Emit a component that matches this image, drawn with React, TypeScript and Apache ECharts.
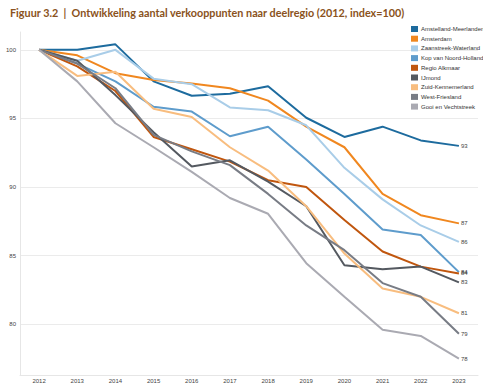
import React, { useEffect, useRef } from "react";
import * as echarts from "echarts";

const years = ["2012", "2013", "2014", "2015", "2016", "2017", "2018", "2019", "2020", "2021", "2022", "2023"];

const amstellandMeerlanden = [100, 100, 100.4, 97.7, 96.65, 96.8, 97.35, 95.05, 93.65, 94.4, 93.4, 93.0];
const amsterdam = [100, 99.6, 98.3, 97.8, 97.55, 97.2, 96.3, 94.4, 92.9, 89.5, 87.95, 87.35];
const zaanstreekWaterland = [100, 99.2, 100, 97.9, 97.5, 95.8, 95.6, 94.5, 91.4, 89.1, 87.2, 86.0];
const kopVanNoordHolland = [100, 99.0, 97.7, 95.85, 95.5, 93.7, 94.4, 92.0, 89.5, 86.9, 86.5, 83.8];
const regioAlkmaar = [100, 98.8, 97.0, 93.65, 92.75, 91.85, 90.5, 90.0, 87.6, 85.3, 84.2, 83.7];
const ijmond = [100, 99.2, 96.7, 94.0, 91.5, 91.95, 90.4, 88.6, 84.3, 84.0, 84.2, 83.05];
const zuidKennemerland = [100, 98.1, 98.4, 95.7, 95.1, 92.9, 91.2, 88.6, 85.15, 82.6, 82.0, 80.8];
const westFriesland = [100, 99.0, 97.2, 93.8, 92.6, 91.6, 89.5, 87.2, 85.4, 83.0, 82.0, 79.3];
const gooiEnVechtstreek = [100, 97.7, 94.65, 92.9, 91.1, 89.2, 88.05, 84.45, 82.0, 79.6, 79.15, 77.5];

const seriesNames = [
  "Amstelland-Meerlanden",
  "Amsterdam",
  "Zaanstreek-Waterland",
  "Kop van Noord-Holland",
  "Regio Alkmaar",
  "IJmond",
  "Zuid-Kennemerland",
  "West-Friesland",
  "Gooi en Vechtstreek",
];
const seriesValues = [
  amstellandMeerlanden,
  amsterdam,
  zaanstreekWaterland,
  kopVanNoordHolland,
  regioAlkmaar,
  ijmond,
  zuidKennemerland,
  westFriesland,
  gooiEnVechtstreek,
];
const seriesColors = [
  "#1d6b9e",
  "#f0871f",
  "#a9cde8",
  "#5e9ccc",
  "#c0560e",
  "#545960",
  "#f8bd7f",
  "#787c85",
  "#aaaab2",
];

const FONT = "'Liberation Sans', Arial, sans-serif";

export default function App() {
  const ref = useRef<HTMLDivElement>(null);
  useEffect(() => {
    if (!ref.current) return;
    const chart = echarts.init(ref.current, undefined, { renderer: "svg" });
    chart.setOption({
      animation: false,
      backgroundColor: "#ffffff",
      title: {
        text: "Figuur 3.2  |  Ontwikkeling aantal verkooppunten naar deelregio (2012, index=100)",
        left: 5,
        top: 2,
        textStyle: {
          fontFamily: "Lato, 'Open Sans', sans-serif",
          fontWeight: "bold",
          fontSize: 10.8,
          color: "#8a5220",
        },
      },
      legend: {
        orient: "vertical",
        left: 406,
        top: 21,
        itemWidth: 7,
        itemHeight: 6,
        itemGap: 3.7,
        icon: "rect",
        data: seriesNames,
        textStyle: { fontFamily: FONT, fontSize: 6, color: "#333", padding: [0, 0, 0, -2] },
      },
      grid: { left: 20, right: 5, top: 32, bottom: 12, containLabel: false },
      xAxis: {
        type: "category",
        data: years,
        boundaryGap: true,
        axisLine: { show: true, lineStyle: { color: "#e6e6e6" } },
        axisTick: { show: false },
        axisLabel: { fontFamily: FONT, fontSize: 6, color: "#444", margin: 3 },
      },
      yAxis: {
        type: "value",
        min: 76.3,
        max: 101.3,
        minInterval: 5,
        maxInterval: 5,
        axisLine: { show: true, lineStyle: { color: "#e6e6e6" } },
        axisTick: { show: false },
        splitLine: { show: true, showMinLine: false, showMaxLine: false, lineStyle: { color: "#ebebeb", width: 1 } },
        axisLabel: {
          fontFamily: FONT,
          fontSize: 6,
          color: "#444",
          margin: 4,
          showMinLabel: false,
          showMaxLabel: false,
          formatter: (v: number) => (Math.abs(v % 5) < 1e-6 ? String(v) : ""),
        },
      },
      series: seriesNames.map((name, i) => ({
        name,
        type: "line",
        data: seriesValues[i],
        color: seriesColors[i],
        symbol: "none",
        lineStyle: { width: 2, color: seriesColors[i] },
        endLabel: {
          show: true,
          formatter: (p: any) => String(Math.round(p.value)),
          fontFamily: FONT,
          fontSize: 6,
          color: "#444",
          distance: 2,
        },
      })),
    });
    return () => chart.dispose();
  }, []);
  return (
    <div
      ref={ref}
      style={{ position: "fixed", left: 0, top: 0, width: 483, height: 387 }}
    />
  );
}
